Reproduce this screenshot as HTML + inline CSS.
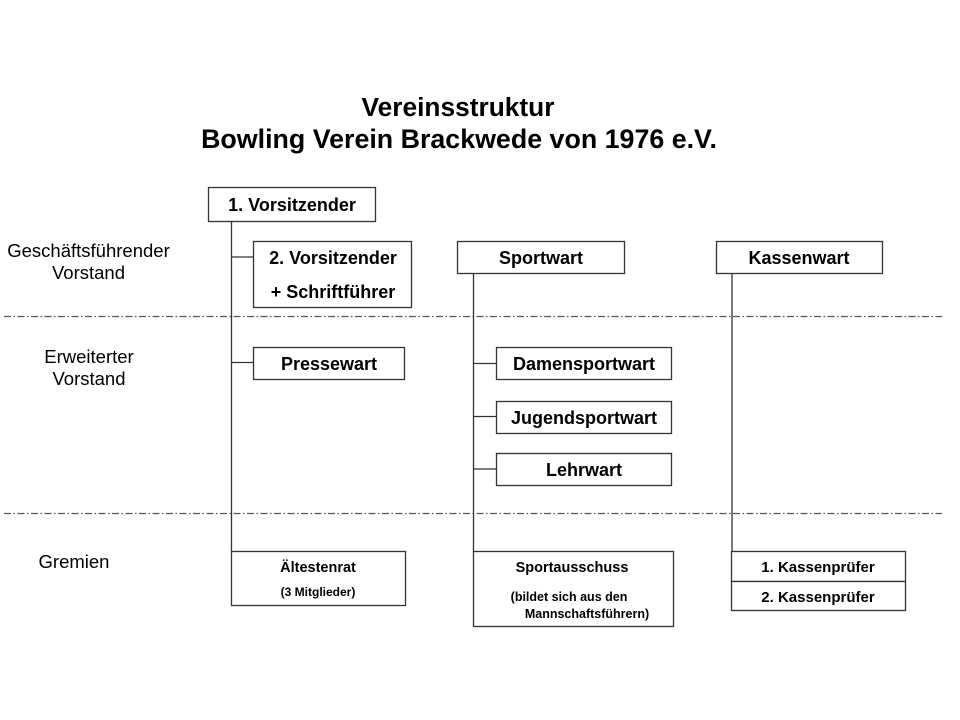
<!DOCTYPE html>
<html><head><meta charset="utf-8"><style>
html,body{margin:0;padding:0;background:#fff;}
svg{display:block;}
text{font-family:"Liberation Sans",Arial,sans-serif;fill:#000;}
.b{font-weight:bold;}
</style></head><body>
<svg width="960" height="720" viewBox="0 0 960 720" xmlns="http://www.w3.org/2000/svg">
<rect width="960" height="720" fill="#fff"/>
<text class="b" x="458" y="116" font-size="26.3" text-anchor="middle">Vereinsstruktur</text>
<text class="b" x="459" y="148" font-size="26.8" text-anchor="middle">Bowling Verein Brackwede von 1976 e.V.</text>

<g stroke="#555" stroke-width="1.2" stroke-dasharray="7 2.5 1.5 2.5" fill="none">
<line x1="4" y1="316.5" x2="942" y2="316.5"/>
<line x1="4" y1="513.5" x2="942" y2="513.5"/>
</g>

<g font-size="18.5">
<text x="88.5" y="257" text-anchor="middle">Geschäftsführender</text>
<text x="88.5" y="279" text-anchor="middle">Vorstand</text>
<text x="89" y="363" text-anchor="middle">Erweiterter</text>
<text x="89" y="385" text-anchor="middle">Vorstand</text>
<text x="74" y="568" text-anchor="middle">Gremien</text>
</g>

<g stroke="#333" stroke-width="1.3" fill="none">
<line x1="231.5" y1="221" x2="231.5" y2="552"/>
<line x1="231.5" y1="257" x2="254" y2="257"/>
<line x1="231.5" y1="362.5" x2="254" y2="362.5"/>
<line x1="473.5" y1="273" x2="473.5" y2="552"/>
<line x1="473.5" y1="363.5" x2="496" y2="363.5"/>
<line x1="473.5" y1="416.5" x2="496" y2="416.5"/>
<line x1="473.5" y1="469" x2="496" y2="469"/>
<line x1="732" y1="273" x2="732" y2="552"/>
</g>

<g stroke="#333" stroke-width="1.3" fill="#fff">
<rect x="208.5" y="187.5" width="167" height="34"/>
<rect x="253.5" y="241.5" width="158" height="66"/>
<rect x="457.5" y="241.5" width="167" height="32"/>
<rect x="716.5" y="241.5" width="166" height="32"/>
<rect x="253.5" y="347.5" width="151" height="32"/>
<rect x="496.5" y="347.5" width="175" height="32"/>
<rect x="496.5" y="401.5" width="175" height="32"/>
<rect x="496.5" y="453.5" width="175" height="32"/>
<rect x="231.5" y="551.5" width="174" height="54"/>
<rect x="473.5" y="551.5" width="200" height="75"/>
<rect x="731.5" y="551.5" width="174" height="30"/>
<rect x="731.5" y="581.5" width="174" height="29"/>
</g>

<g class="b" font-size="18" text-anchor="middle" font-weight="bold">
<text x="292" y="211">1. Vorsitzender</text>
<text x="333" y="264">2. Vorsitzender</text>
<text x="333" y="298">+ Schriftführer</text>
<text x="541" y="264">Sportwart</text>
<text x="799" y="264">Kassenwart</text>
<text x="329" y="370">Pressewart</text>
<text x="584" y="370">Damensportwart</text>
<text x="584" y="424">Jugendsportwart</text>
<text x="584" y="476">Lehrwart</text>
</g>
<g font-weight="bold" text-anchor="middle">
<text x="318" y="572" font-size="14.5">Ältestenrat</text>
<text x="318" y="596" font-size="12">(3 Mitglieder)</text>
<text x="572" y="572" font-size="14.5">Sportausschuss</text>
<text x="569" y="601" font-size="12.5">(bildet sich aus den</text>
<text x="587" y="618" font-size="12.5">Mannschaftsführern)</text>
<text x="818" y="572" font-size="15">1. Kassenprüfer</text>
<text x="818" y="602" font-size="15">2. Kassenprüfer</text>
</g>
</svg>
</body></html>
